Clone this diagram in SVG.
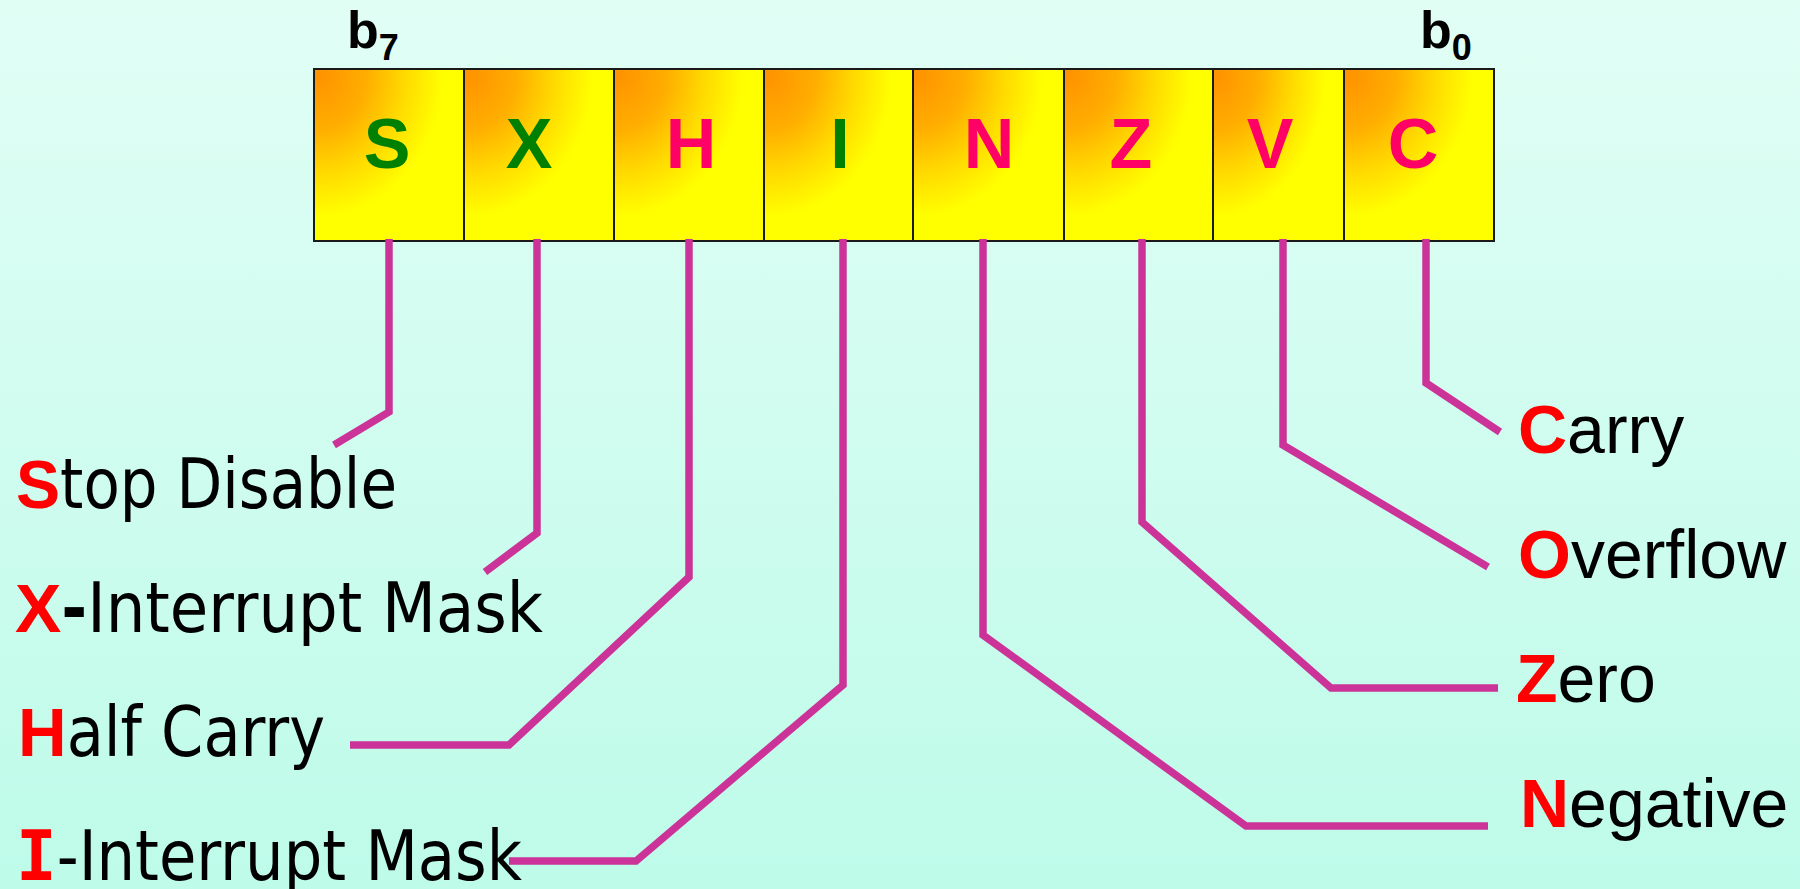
<svg xmlns="http://www.w3.org/2000/svg" width="1800" height="889" viewBox="0 0 1800 889">
  <defs>
    <linearGradient id="bg" x1="0" y1="0" x2="0" y2="1">
      <stop offset="0" stop-color="#E1FEF5"/>
      <stop offset="1" stop-color="#BEFBE9"/>
    </linearGradient>
    <radialGradient id="cellFill" cx="0.03" cy="0.03" r="1.15" fx="0.03" fy="0.03">
      <stop offset="0" stop-color="#FF9200"/>
      <stop offset="0.28" stop-color="#FFAE00"/>
      <stop offset="0.5" stop-color="#FFDA00"/>
      <stop offset="0.72" stop-color="#FFFF00"/>
      <stop offset="1" stop-color="#FFFF00"/>
    </radialGradient>
    <style>
      .cell { fill: url(#cellFill); stroke: #1a1a1a; stroke-width: 2; }
      .bit { font-family: "Liberation Sans", Arial, sans-serif; font-weight: bold; font-size: 70px; text-anchor: middle; }
      .g { fill: #008000; }
      .p { fill: #FF0066; }
      .idx { font-family: "Liberation Sans", Arial, sans-serif; font-weight: bold; font-size: 52px; fill: #000; }
      .sub { font-size: 36px; }
      .lbl { font-family: "DejaVu Sans Condensed", "DejaVu Sans", Tahoma, sans-serif; font-size: 69px; fill: #000; }
      .rlbl { font-family: "Liberation Sans", Arial, sans-serif; font-size: 68px; fill: #000; }
      .key { fill: #FF0000; font-weight: bold; font-family: "Liberation Sans", Arial, sans-serif; }
      .keyI { fill: #FF0000; font-weight: bold; font-family: "DejaVu Sans Mono", monospace; }
      .link { fill: none; stroke: #CC3399; stroke-width: 7.5; stroke-linejoin: miter; stroke-linecap: butt; }
    </style>
  </defs>

  <rect x="0" y="0" width="1800" height="889" fill="url(#bg)"/>

  <!-- bit index labels -->
  <g id="label-b7">
    <text class="idx" x="347" y="48">b<tspan class="sub" dy="12">7</tspan></text>
  </g>
  <g id="label-b0">
    <text class="idx" x="1420" y="48">b<tspan class="sub" dy="12">0</tspan></text>
  </g>

  <!-- condition code register cells, b7 .. b0 -->
  <g id="bit-S">
    <rect class="cell" x="314" y="69" width="150" height="172"/>
    <text class="bit g" x="387" y="168">S</text>
  </g>
  <g id="bit-X">
    <rect class="cell" x="464" y="69" width="150" height="172"/>
    <text class="bit g" x="529" y="168">X</text>
  </g>
  <g id="bit-H">
    <rect class="cell" x="614" y="69" width="150" height="172"/>
    <text class="bit p" x="691" y="168">H</text>
  </g>
  <g id="bit-I">
    <rect class="cell" x="764" y="69" width="149" height="172"/>
    <text class="bit g" x="840" y="168">I</text>
  </g>
  <g id="bit-N">
    <rect class="cell" x="913" y="69" width="151" height="172"/>
    <text class="bit p" x="989" y="168">N</text>
  </g>
  <g id="bit-Z">
    <rect class="cell" x="1064" y="69" width="149" height="172"/>
    <text class="bit p" x="1131" y="168">Z</text>
  </g>
  <g id="bit-V">
    <rect class="cell" x="1213" y="69" width="131" height="172"/>
    <text class="bit p" x="1270" y="168">V</text>
  </g>
  <g id="bit-C">
    <rect class="cell" x="1344" y="69" width="150" height="172"/>
    <text class="bit p" x="1413" y="168">C</text>
  </g>

  <!-- leader lines from each bit to its description -->
  <g id="connectors">
    <polyline class="link" points="389,239 389,412 334,445"/>
    <polyline class="link" points="537,239 537,533 485,572"/>
    <polyline class="link" points="689,239 689,577 509,745 350,745"/>
    <polyline class="link" points="843,239 843,685 636,861 509,861"/>
    <polyline class="link" points="983,239 983,635 1246,826 1488,826"/>
    <polyline class="link" points="1142,239 1142,522 1331,688 1498,688"/>
    <polyline class="link" points="1283,239 1283,445 1488,567"/>
    <polyline class="link" points="1426,239 1426,383 1500,432"/>
  </g>

  <!-- flag descriptions, left side -->
  <g id="desc-S">
    <text class="lbl" x="16" y="508" textLength="381" lengthAdjust="spacingAndGlyphs"><tspan class="key">S</tspan>top Disable</text>
  </g>
  <g id="desc-X">
    <text class="lbl" x="15" y="632" textLength="528" lengthAdjust="spacingAndGlyphs"><tspan class="key">X</tspan><tspan font-weight="bold">-</tspan>Interrupt Mask</text>
  </g>
  <g id="desc-H">
    <text class="lbl" x="18" y="756" textLength="307" lengthAdjust="spacingAndGlyphs"><tspan class="key">H</tspan>alf Carry</text>
  </g>
  <g id="desc-I">
    <text class="lbl" x="16" y="880" textLength="506" lengthAdjust="spacingAndGlyphs"><tspan class="keyI">I</tspan>-Interrupt Mask</text>
  </g>

  <!-- flag descriptions, right side -->
  <g id="desc-C">
    <text class="rlbl" x="1518" y="453"><tspan class="key">C</tspan>arry</text>
  </g>
  <g id="desc-V">
    <text class="rlbl" x="1518" y="578"><tspan class="key">O</tspan>verflow</text>
  </g>
  <g id="desc-Z">
    <text class="rlbl" x="1516" y="702"><tspan class="key">Z</tspan>ero</text>
  </g>
  <g id="desc-N">
    <text class="rlbl" x="1520" y="827"><tspan class="key">N</tspan>egative</text>
  </g>
</svg>
